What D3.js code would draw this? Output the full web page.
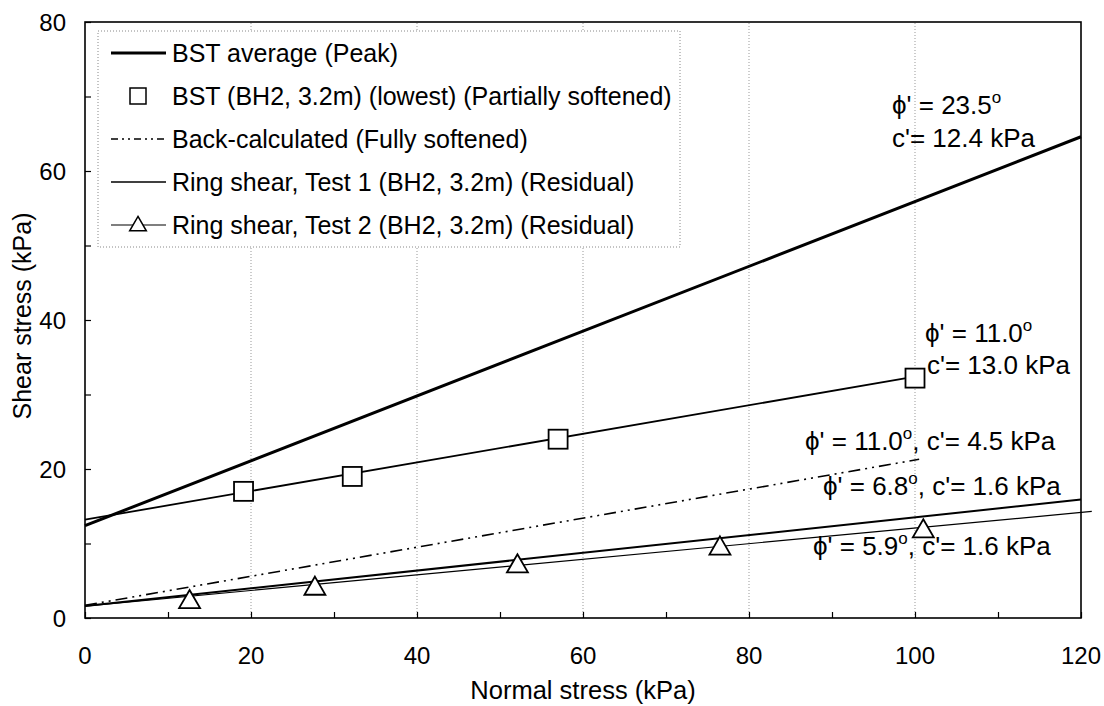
<!DOCTYPE html>
<html>
<head>
<meta charset="utf-8">
<script src="https://cdn.jsdelivr.net/npm/d3@7"></script>
<style>
body { margin: 0; background: #fff; }
svg { font-family: "Liberation Sans", Arial, sans-serif; }
</style>
</head>
<body>
<div id="chart"></div>
<script>
// series (x = normal stress, y = shear stress, kPa)
const peak_line = [[0, 12.4], [120, 64.6]];
const bst_x = [19.1, 32.2, 57.0, 100.0];
const bst_y = [17.0, 19.0, 24.0, 32.2];
const bst_line = [[0, 13.2], [100.0, 32.4]];
const back_line = [[0, 1.7], [100.5, 21.3]];
const ring1_line = [[0, 1.6], [120, 15.9]];
const ring2_x = [12.6, 27.7, 52.1, 76.5, 101.0];
const ring2_y = [2.4, 4.2, 7.2, 9.6, 11.9];
const ring2_line = [[0, 1.6], [121.3, 14.3]];
const x_ticks = [0, 20, 40, 60, 80, 100, 120];
const y_ticks = [0, 20, 40, 60, 80];
const legend_labels = [
	"BST average (Peak)",
	"BST (BH2, 3.2m) (lowest) (Partially softened)",
	"Back-calculated (Fully softened)",
	"Ring shear, Test 1 (BH2, 3.2m) (Residual)",
	"Ring shear, Test 2 (BH2, 3.2m) (Residual)"
];

const width = 1104, height = 706;
const margin = {left: 85, right: 23, top: 22, bottom: 88};

let svg = d3.select("#chart").append("svg").attr("width", width).attr("height", height);

let x = d3.scaleLinear().domain([0, 120]).range([margin.left, width - margin.right]);
let y = d3.scaleLinear().domain([0, 80]).range([height - margin.bottom, margin.top]);

// vertical dotted gridlines
svg.append("g").selectAll("line")
	.data(x_ticks.filter(d => d > 0 && d < 120))
	.join("line")
	.attr("x1", d => x(d)).attr("x2", d => x(d))
	.attr("y1", y(0)).attr("y2", y(80))
	.attr("stroke", "#999").attr("stroke-width", 1).attr("stroke-dasharray", "1,2");

// axes, ticks pointing inward, minor every 10
let xaxis = svg.append("g")
	.attr("transform", `translate(0, ${y(0)})`)
	.call(d3.axisTop(x).tickValues(d3.range(0, 121, 10)).tickSize(6).tickFormat(""));
let yaxis = svg.append("g")
	.attr("transform", `translate(${x(0)}, 0)`)
	.call(d3.axisRight(y).tickValues(d3.range(0, 81, 10)).tickSize(6).tickFormat(""));
[xaxis, yaxis].forEach(a => {
	a.select(".domain").remove();
	a.selectAll("line").attr("stroke", "#000").attr("stroke-width", 1.2);
});

// frame
svg.append("rect")
	.attr("x", x(0)).attr("y", y(80))
	.attr("width", x(120) - x(0)).attr("height", y(0) - y(80))
	.attr("fill", "none").attr("stroke", "#000").attr("stroke-width", 1.6);

// tick labels
svg.append("g").selectAll("text").data(x_ticks).join("text")
	.attr("x", d => x(d)).attr("y", y(0) + 46)
	.attr("text-anchor", "middle").attr("font-size", 24).text(d => d);
svg.append("g").selectAll("text").data(y_ticks).join("text")
	.attr("x", x(0) - 19).attr("y", d => y(d) + 9)
	.attr("text-anchor", "end").attr("font-size", 24).text(d => d);

svg.append("text").attr("x", (x(0) + x(120)) / 2).attr("y", 699)
	.attr("text-anchor", "middle").attr("font-size", 25.5).text("Normal stress (kPa)");
svg.append("text")
	.attr("transform", `translate(31, ${(y(0) + y(80)) / 2 - 4}) rotate(-90)`)
	.attr("text-anchor", "middle").attr("font-size", 25).text("Shear stress (kPa)");

// lines
let line = d3.line().x(d => x(d[0])).y(d => y(d[1]));
let plot = svg.append("g");
plot.append("path").attr("d", line(peak_line)).attr("fill", "none").attr("stroke", "#000").attr("stroke-width", 3);
plot.append("path").attr("d", line(bst_line)).attr("fill", "none").attr("stroke", "#000").attr("stroke-width", 1.8);
plot.append("path").attr("d", line(back_line)).attr("fill", "none").attr("stroke", "#000").attr("stroke-width", 1.6)
	.attr("stroke-dasharray", "12,5,2,5,2,5");
plot.append("path").attr("d", line(ring1_line)).attr("fill", "none").attr("stroke", "#000").attr("stroke-width", 2);
plot.append("path").attr("d", line(ring2_line)).attr("fill", "none").attr("stroke", "#000").attr("stroke-width", 1.2);

// markers
const sq = 19;
plot.selectAll(".sq").data(bst_x).join("rect")
	.attr("x", d => x(d) - sq / 2).attr("y", (d, i) => y(bst_y[i]) - sq / 2)
	.attr("width", sq).attr("height", sq)
	.attr("fill", "#fff").attr("stroke", "#000").attr("stroke-width", 1.8);
let tri = d3.symbol().type(d3.symbolTriangle).size(190);
plot.selectAll(".tri").data(ring2_x).join("path")
	.attr("d", tri)
	.attr("transform", (d, i) => `translate(${x(d)}, ${y(ring2_y[i]) + 2})`)
	.attr("fill", "#fff").attr("stroke", "#000").attr("stroke-width", 1.8);

// legend
let lg = svg.append("g");
lg.append("rect").attr("x", 98).attr("y", 31).attr("width", 582).attr("height", 216)
	.attr("fill", "#fff").attr("stroke", "#888").attr("stroke-width", 1).attr("stroke-dasharray", "1,2");
let rows = [53, 96, 139, 182, 225];
legend_labels.forEach((label, i) => {
	let ly = rows[i];
	lg.append("text").attr("x", 172).attr("y", ly + 9).attr("font-size", 25).text(label);
	if (i == 1) {
		lg.append("rect").attr("x", 138 - 8).attr("y", ly - 8).attr("width", 16).attr("height", 16)
			.attr("fill", "#fff").attr("stroke", "#000").attr("stroke-width", 1.5);
		return;
	}
	let seg = lg.append("line").attr("x1", 111).attr("x2", 166).attr("y1", ly).attr("y2", ly).attr("stroke", "#000");
	if (i == 0) seg.attr("stroke-width", 3);
	if (i == 2) seg.attr("stroke-width", 1.5).attr("stroke-dasharray", "7,4,2,4,2,4");
	if (i == 3) seg.attr("stroke-width", 1.5);
	if (i == 4) {
		seg.attr("stroke-width", 1.2);
		lg.append("path").attr("d", d3.symbol().type(d3.symbolTriangle).size(120))
			.attr("transform", `translate(138, ${ly + 1})`)
			.attr("fill", "#fff").attr("stroke", "#000").attr("stroke-width", 1.5);
	}
});

// strength parameter annotations
function note(tx, ty, phi, rest) {
	let t = svg.append("text").attr("x", tx).attr("y", ty).attr("font-size", 26);
	t.append("tspan").text("\u03D5' = " + phi);
	t.append("tspan").attr("dy", -11).attr("font-size", 17).text("o");
	t.append("tspan").attr("dy", 11).text(rest);
}
note(892, 114, "23.5", "");
svg.append("text").attr("x", 892).attr("y", 147).attr("font-size", 26).text("c'= 12.4 kPa");
note(925, 342, "11.0", "");
svg.append("text").attr("x", 927).attr("y", 374).attr("font-size", 26).text("c'= 13.0 kPa");
note(805, 450, "11.0", ", c'= 4.5 kPa");
note(823, 495, "6.8", ", c'= 1.6 kPa");
note(813, 555, "5.9", ", c'= 1.6 kPa");
</script>
</body>
</html>
